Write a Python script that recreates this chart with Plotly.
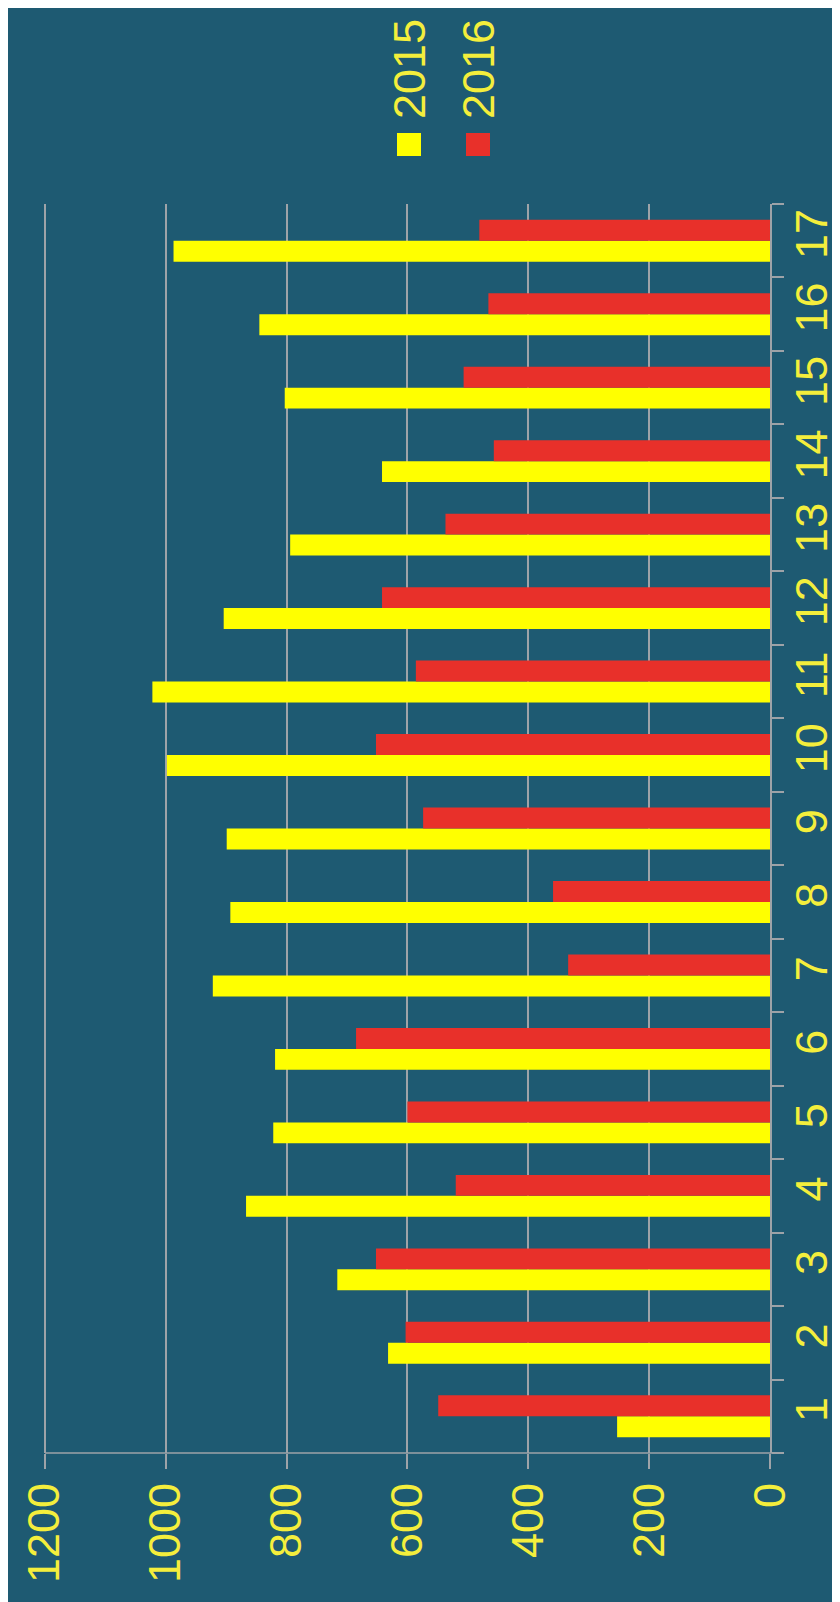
import plotly.graph_objects as go

categories = [str(i) for i in range(1, 18)]
values_2015 = [253, 632, 716, 867, 822, 819, 922, 893, 899, 998, 1022, 904, 794, 642, 803, 845, 987]
values_2016 = [549, 603, 652, 520, 600, 685, 334, 359, 574, 652, 586, 642, 537, 457, 507, 466, 481]
series_names = ["2015", "2016"]
value_ticks = [0, 200, 400, 600, 800, 1000, 1200]

W, H = 840, 1602
ML, MR, MT, MB = 35, 78, 196, 157
BG = "#1e5a72"
YELLOW = "#ffff00"
RED = "#e8302a"
TXT = "#f4ee3c"
GRID = "#9ea3a8"
FONT = "Liberation Sans, Arial, sans-serif"
FS = 45

PW = W - ML - MR
PH = H - MT - MB


def px_x(x):
    return (x - ML) / PW


def px_y(y):
    return (H - MB - y) / PH


fig = go.Figure()
fig.add_trace(go.Bar(y=categories, x=values_2015, orientation="h", name=series_names[0],
                     marker=dict(color=YELLOW, line=dict(width=0))))
fig.add_trace(go.Bar(y=categories, x=values_2016, orientation="h", name=series_names[1],
                     marker=dict(color=RED, line=dict(width=0))))

fig.update_layout(
    width=W, height=H,
    margin=dict(l=ML, r=MR, t=MT, b=MB, autoexpand=False),
    paper_bgcolor=BG, plot_bgcolor=BG,
    barmode="group", bargap=0.43, bargroupgap=0,
    showlegend=False,
    font=dict(family=FONT, color=TXT, size=FS),
)

fig.update_xaxes(
    range=[1203, 0], tickvals=value_ticks, ticktext=[str(v) for v in value_ticks],
    showgrid=True, gridcolor=GRID, gridwidth=1.5,
    showline=False, automargin=False,
    ticks="outside", ticklen=15, tickcolor=GRID, tickwidth=1.5,
    tickangle=-90, tickfont=dict(size=FS, color=TXT, family=FONT),
    ticklabelstandoff=-4, zeroline=False, fixedrange=True,
)
fig.update_yaxes(
    type="category", categoryorder="array", categoryarray=categories,
    side="right", showgrid=False, automargin=False,
    showline=True, linecolor=GRID, linewidth=1.5,
    ticks="outside", tickson="boundaries", ticklen=12, tickcolor=GRID, tickwidth=1.5,
    tickangle=-90, tickfont=dict(size=FS, color=TXT, family=FONT),
    ticklabelstandoff=1, fixedrange=True,
)

# bottom baseline, running slightly past the category axis
fig.add_shape(type="line", xref="paper", yref="paper", x0=px_x(37), x1=px_x(772), y0=0, y1=0,
              line=dict(color=GRID, width=1.5))

# rotated legend (text drawn as annotations, swatches as shapes)
legend_items = [(series_names[0], YELLOW, 401), (series_names[1], RED, 470)]
for name, col, cx in legend_items:
    fig.add_annotation(text=name, textangle=-90, xref="paper", yref="paper",
                       x=px_x(cx), y=px_y(61), xanchor="center", yanchor="middle",
                       showarrow=False, font=dict(size=FS, color=TXT, family=FONT))
    fig.add_shape(type="rect", xref="paper", yref="paper",
                  x0=px_x(cx - 12), x1=px_x(cx + 12), y0=px_y(148), y1=px_y(125),
                  fillcolor=col, line=dict(width=0))

fig.write_html("out.html")
